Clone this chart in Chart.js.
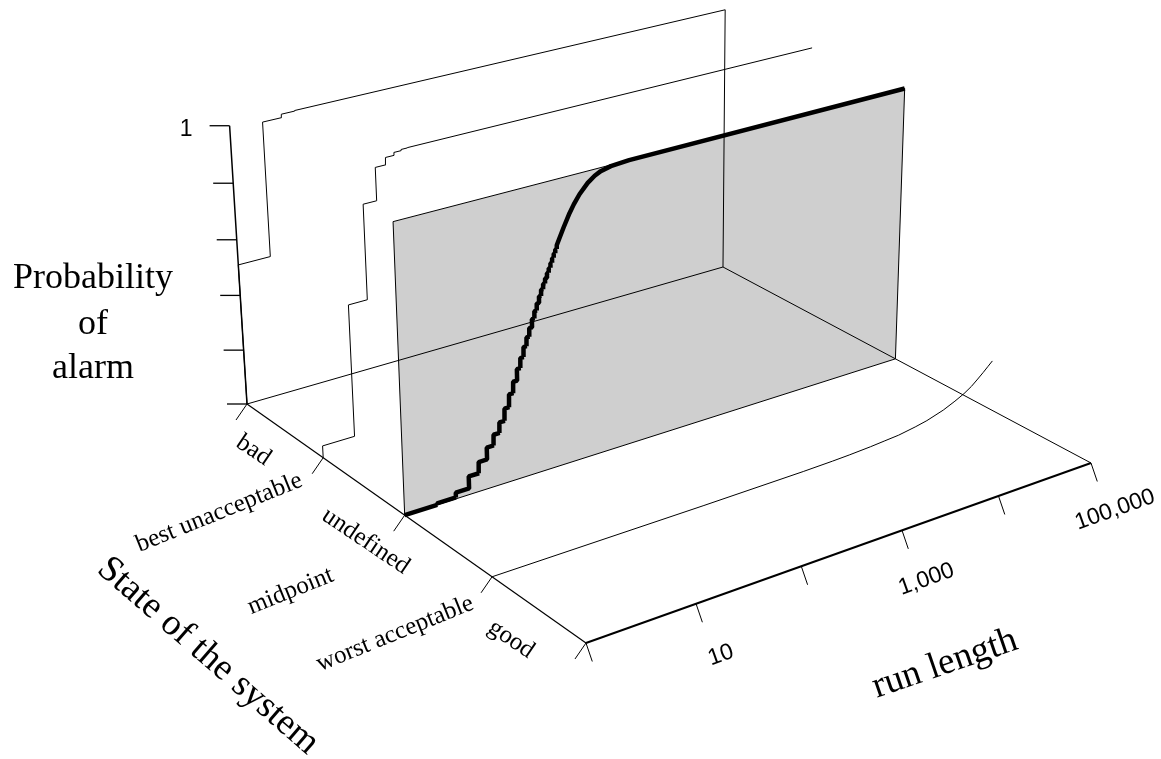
<!DOCTYPE html>
<html>
<head>
<meta charset="utf-8">
<script src="https://cdn.jsdelivr.net/npm/chart.js@4.4.1/dist/chart.umd.min.js"></script>
<style>
html,body{margin:0;padding:0;background:#fff;overflow:hidden}
</style>
</head>
<body>
<canvas id="myChart" width="1161" height="759"></canvas>
<script>
// axis ticks
const runTicks=[1,10,100,1000,10000,100000];
const runTickLabels=["","10","","1,000","","100,000"];
const probTicks=[0,0.2,0.4,0.6,0.8,1];
const probTickLabels=["","","","","","1"];
const stateTicks=[0,1,2,3,4];
const stateLabels=["bad","best unacceptable","undefined","midpoint","worst acceptable","good"];
const stateLabelPos=[0.5,1,2,2,3,3.5];

// curves: run length -> probability of alarm, one per state
const badRun=[1,2,3,4,100000];
const badProb=[0.51,0.986,0.998,1,1];
const bestUnaccRun=[1,2,3,4,5,6,7,8,100000];
const bestUnaccProb=[0.043,0.514,0.846,0.96,0.985,0.995,0.999,1,1];
const undefRun=[1,2,3,4,5,6,7,8,9,10,11,12,13,14,15,16,17,18,19,20,21,22,23,24,25,26,27,28,29,30,
  32,35,40,44,50,60,70,80,100,150,100000];
const undefProb=[0,0.005,0.022,0.065,0.105,0.147,0.185,0.222,0.265,0.31,0.35,0.39,0.425,0.46,0.49,0.52,0.548,0.573,0.597,0.619,
  0.64,0.658,0.675,0.691,0.706,0.722,0.737,0.751,0.764,0.777,
  0.80,0.831,0.874,0.90,0.929,0.96,0.978,0.988,0.996,1,1];
const worstAccRun=[1,100,1000,2000,3000,5000,7000,10000,15000,20000,30000,40000,50000,60000,70000,80000,90000,100000];
const worstAccProb=[0,0,0.002,0.004,0.006,0.01,0.014,0.018,0.028,0.037,0.056,0.075,0.092,0.11,0.13,0.148,0.165,0.18];

// perspective camera: (log run, state, prob) -> page
const cam={a:548.18,b:262.71,c:247,d:-110.34,e:155.29,f:404,g:0.09984,h:-0.13018,p:-26.6,q:-283.3,r:-0.04};
function project(run,state,prob){
  const u=Math.log10(run)/5, v=state/4;
  const w=cam.g*u+cam.h*v+cam.r*prob+1;
  return {x:(cam.a*u+cam.b*v+cam.p*prob+cam.c)/w, y:(cam.d*u+cam.e*v+cam.q*prob+cam.f)/w};
}
function shift(pt,dx,dy){return {x:pt.x+dx,y:pt.y+dy}}

// stepped where run lengths are consecutive, straight otherwise
function curvePoints(runs,probs,state){
  const pts=[project(runs[0],state,0),project(runs[0],state,probs[0])];
  for(let i=1;i<runs.length;i++){
    if(runs[i]===runs[i-1]+1) pts.push(project(runs[i],state,probs[i-1]));
    pts.push(project(runs[i],state,probs[i]));
  }
  return pts;
}

const datasets=[];
function line(pts,width,join){
  datasets.push({data:pts,showLine:true,borderColor:"#000",borderWidth:width,pointRadius:0,
    fill:false,tension:0,borderJoinStyle:join||"miter",borderCapStyle:"butt"});
}

const runMin=runTicks[0], runMax=runTicks[runTicks.length-1];
const stMin=stateTicks[0], stMax=stateTicks[stateTicks.length-1];

// grey plane at "undefined"
datasets.push({data:[project(runMin,2,0),project(runMax,2,0),project(runMax,2,1),project(runMin,2,1),project(runMin,2,0)],
  showLine:true,borderColor:"#000",borderWidth:1,backgroundColor:"#cfcfcf",fill:"shape",pointRadius:0,tension:0,order:10});

// box edges
line([project(runMin,stMin,0),project(runMax,stMin,0)],1);
line([project(runMax,stMin,0),project(runMax,stMax,0)],1);
line([project(runMax,stMin,0),project(runMax,stMin,1)],1);

// axes
line([project(runMin,stMin,0),project(runMin,stMin,1)],1.5);
line([project(runMin,stMin,0),project(runMin,stMax,0)],1.2);
line([project(runMin,stMax,0),project(runMax,stMax,0)],2);
probTicks.forEach(p=>{const a=project(runMin,stMin,p);line([a,shift(a,-20,0)],1.3)});
stateTicks.forEach(s=>{const a=project(runMin,s,0);line([a,shift(a,-11,16)],1)});
runTicks.forEach(r=>{const a=project(r,stMax,0);line([a,shift(a,6.3,18.5)],1)});

// curves
line(curvePoints(badRun,badProb,0),1);
line(curvePoints(bestUnaccRun,bestUnaccProb,1),1);
line(curvePoints(worstAccRun,worstAccProb,3),1);
line(curvePoints(undefRun,undefProb,2),4.5,"bevel");

// text layout
const serif="Liberation Serif", sans="Liberation Sans";
const stateLabelOffset=[[-31,20],[-104,55],[-39,26],[-114,76],[-97,57],[-27,30]];
const stateLabelAngle=[34,-22,34,-22,-22,34];

function txt(ctx,s,x,y,deg,font,align){
  ctx.save();
  ctx.translate(x,y);
  ctx.rotate(deg*Math.PI/180);
  ctx.font=font;
  ctx.fillStyle="#000";
  ctx.textAlign=align||"center";
  ctx.textBaseline="middle";
  ctx.fillText(s,0,0);
  ctx.restore();
}

const labelPlugin={
  id:"labels3d",
  afterDraw(chart){
    const ctx=chart.ctx, xs=chart.scales.x, ys=chart.scales.y;
    const px=pt=>({x:xs.getPixelForValue(pt.x),y:ys.getPixelForValue(pt.y)});
    probTicks.forEach((p,i)=>{
      if(!probTickLabels[i]) return;
      const a=px(project(runMin,stMin,p));
      txt(ctx,probTickLabels[i],a.x-37,a.y+3.5,0,"23px "+sans,"right");
    });
    runTicks.forEach((r,i)=>{
      if(!runTickLabels[i]) return;
      const a=px(project(r,4.25,-0.12));
      txt(ctx,runTickLabels[i],a.x,a.y,-19.6,"23px "+sans);
    });
    stateLabels.forEach((s,i)=>{
      const a=px(project(runMin,stateLabelPos[i],0));
      txt(ctx,s,a.x+stateLabelOffset[i][0],a.y+stateLabelOffset[i][1],stateLabelAngle[i],"25px "+serif);
    });
    ctx.save();
    ctx.font="36px "+serif;
    ctx.fillStyle="#000";
    ctx.textAlign="center";
    ctx.textBaseline="alphabetic";
    ctx.fillText("Probability",93,288);
    ctx.fillText("of",93,334);
    ctx.fillText("alarm",93,378);
    ctx.restore();
    txt(ctx,"State of the system",208,656,41,"37px "+serif);
    txt(ctx,"run length",945,664,-19,"37px "+serif);
  }
};

new Chart("myChart",{
  type:"scatter",
  data:{datasets:datasets},
  options:{
    responsive:false,
    animation:false,
    devicePixelRatio:1,
    layout:{padding:0},
    scales:{
      x:{type:"linear",min:0,max:1161,display:false},
      y:{type:"linear",min:0,max:759,reverse:true,display:false}
    },
    plugins:{legend:{display:false},tooltip:{enabled:false}}
  },
  plugins:[labelPlugin]
});
</script>
</body>
</html>
